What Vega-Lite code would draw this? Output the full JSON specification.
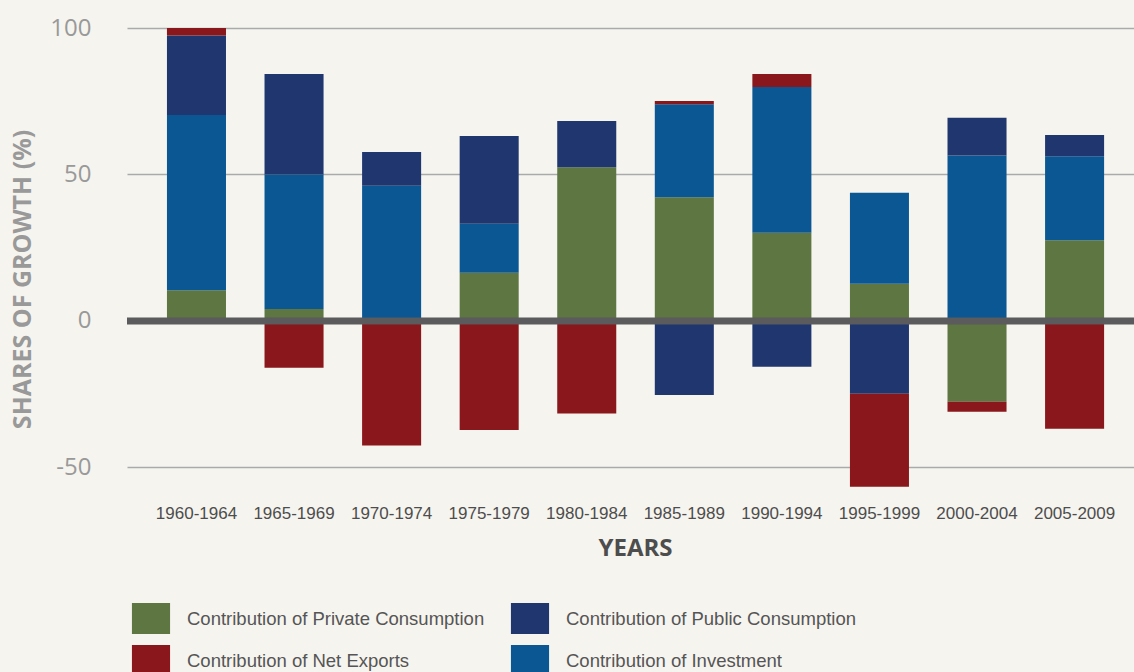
{
  "$schema": "https://vega.github.io/schema/vega-lite/v6.json",
  "width": 1007,
  "height": 460,
  "autosize": {"type": "none"},
  "padding": {"left": 127, "top": 28, "right": 0, "bottom": 184},
  "background": "#f5f4ef",
  "config": {"view": {"stroke": null}},
  "layer": [
    {
      "data": {
        "values": [
          {"period": "1960-1964", "series": "Contribution of Private Consumption", "k": 1, "value": 10.5},
          {"period": "1960-1964", "series": "Contribution of Investment", "k": 2, "value": 59.8},
          {"period": "1960-1964", "series": "Contribution of Public Consumption", "k": 3, "value": 27.1},
          {"period": "1960-1964", "series": "Contribution of Net Exports", "k": 4, "value": 2.6},
          {"period": "1965-1969", "series": "Contribution of Private Consumption", "k": 1, "value": 4.1},
          {"period": "1965-1969", "series": "Contribution of Investment", "k": 2, "value": 45.9},
          {"period": "1965-1969", "series": "Contribution of Public Consumption", "k": 3, "value": 34.3},
          {"period": "1965-1969", "series": "Contribution of Net Exports", "k": 4, "value": -16.0},
          {"period": "1970-1974", "series": "Contribution of Private Consumption", "k": 1, "value": 0},
          {"period": "1970-1974", "series": "Contribution of Investment", "k": 2, "value": 46.2},
          {"period": "1970-1974", "series": "Contribution of Public Consumption", "k": 3, "value": 11.5},
          {"period": "1970-1974", "series": "Contribution of Net Exports", "k": 4, "value": -42.5},
          {"period": "1975-1979", "series": "Contribution of Private Consumption", "k": 1, "value": 16.5},
          {"period": "1975-1979", "series": "Contribution of Investment", "k": 2, "value": 16.7},
          {"period": "1975-1979", "series": "Contribution of Public Consumption", "k": 3, "value": 29.9},
          {"period": "1975-1979", "series": "Contribution of Net Exports", "k": 4, "value": -37.2},
          {"period": "1980-1984", "series": "Contribution of Private Consumption", "k": 1, "value": 52.5},
          {"period": "1980-1984", "series": "Contribution of Investment", "k": 2, "value": 0},
          {"period": "1980-1984", "series": "Contribution of Public Consumption", "k": 3, "value": 15.8},
          {"period": "1980-1984", "series": "Contribution of Net Exports", "k": 4, "value": -31.6},
          {"period": "1985-1989", "series": "Contribution of Private Consumption", "k": 1, "value": 42.2},
          {"period": "1985-1989", "series": "Contribution of Investment", "k": 2, "value": 31.8},
          {"period": "1985-1989", "series": "Contribution of Public Consumption", "k": 3, "value": -25.3},
          {"period": "1985-1989", "series": "Contribution of Net Exports", "k": 4, "value": 1.1},
          {"period": "1990-1994", "series": "Contribution of Private Consumption", "k": 1, "value": 30.1},
          {"period": "1990-1994", "series": "Contribution of Investment", "k": 2, "value": 49.8},
          {"period": "1990-1994", "series": "Contribution of Public Consumption", "k": 3, "value": -15.6},
          {"period": "1990-1994", "series": "Contribution of Net Exports", "k": 4, "value": 4.4},
          {"period": "1995-1999", "series": "Contribution of Private Consumption", "k": 1, "value": 12.7},
          {"period": "1995-1999", "series": "Contribution of Investment", "k": 2, "value": 31.1},
          {"period": "1995-1999", "series": "Contribution of Public Consumption", "k": 3, "value": -24.8},
          {"period": "1995-1999", "series": "Contribution of Net Exports", "k": 4, "value": -31.8},
          {"period": "2000-2004", "series": "Contribution of Private Consumption", "k": 1, "value": -27.6},
          {"period": "2000-2004", "series": "Contribution of Investment", "k": 2, "value": 56.5},
          {"period": "2000-2004", "series": "Contribution of Public Consumption", "k": 3, "value": 12.9},
          {"period": "2000-2004", "series": "Contribution of Net Exports", "k": 4, "value": -3.4},
          {"period": "2005-2009", "series": "Contribution of Private Consumption", "k": 1, "value": 27.6},
          {"period": "2005-2009", "series": "Contribution of Investment", "k": 2, "value": 28.6},
          {"period": "2005-2009", "series": "Contribution of Public Consumption", "k": 3, "value": 7.3},
          {"period": "2005-2009", "series": "Contribution of Net Exports", "k": 4, "value": -36.8}
        ]
      },
      "mark": {"type": "bar"},
      "encoding": {
        "x": {
          "field": "period",
          "type": "nominal",
          "scale": {"paddingInner": 0.395, "paddingOuter": 0.358, "align": 0.572},
          "axis": {
            "labelAngle": 0,
            "domain": false,
            "ticks": false,
            "labelFont": "Liberation Sans",
            "labelFontSize": 17,
            "labelColor": "#4d4d4d",
            "labelPadding": 17,
            "title": "YEARS",
            "titleFont": "Open Sans",
            "titleFontWeight": "bold",
            "titleFontSize": 24,
            "titleColor": "#4d4d4d",
            "titleX": 508,
            "titleY": 67,
            "titleBaseline": "alphabetic",
            "titleAlign": "center"
          }
        },
        "y": {
          "field": "value",
          "type": "quantitative",
          "stack": "zero",
          "scale": {"domain": [-57, 100], "nice": false, "zero": false},
          "axis": {
            "values": [-50, 0, 50, 100],
            "labelExpr": "toString(datum.value)",
            "domain": false,
            "ticks": false,
            "grid": true,
            "gridColor": "#aaaaaa",
            "gridWidth": 1.5,
            "labelFont": "Open Sans",
            "labelFontSize": 24,
            "labelColor": "#999999",
            "labelPadding": 36,
            "title": "SHARES OF GROWTH (%)",
            "titleFont": "Open Sans",
            "titleFontWeight": "bold",
            "titleFontSize": 25,
            "titleColor": "#999999",
            "titleAngle": 270,
            "titleX": -105,
            "titleY": 251,
            "titleAlign": "center",
            "titleBaseline": "middle"
          }
        },
        "order": {"field": "k", "type": "quantitative", "sort": "ascending"},
        "color": {
          "field": "series",
          "type": "nominal",
          "scale": {
            "domain": ["Contribution of Private Consumption", "Contribution of Net Exports", "Contribution of Public Consumption", "Contribution of Investment"],
            "range": ["#5d7642", "#89171b", "#20366e", "#0b5794"]
          },
          "legend": {
            "title": null,
            "orient": "none",
            "legendX": 8.5,
            "legendY": 575,
            "columns": 2,
            "columnPadding": 26,
            "rowPadding": 11,
            "padding": 0,
            "symbolType": "M-1.23,-1H1.23V1H-1.23Z",
            "symbolSize": 961,
            "symbolStrokeWidth": 0,
            "labelFont": "Liberation Sans",
            "labelFontSize": 18.5,
            "labelColor": "#555555",
            "labelOffset": 20.5,
            "labelLimit": 500
          }
        }
      }
    },
    {
      "data": {"values": [{"v": 0}]},
      "mark": {"type": "rule", "strokeWidth": 7, "color": "#5b5b5d"},
      "encoding": {"y": {"field": "v", "type": "quantitative"}}
    }
  ]
}
